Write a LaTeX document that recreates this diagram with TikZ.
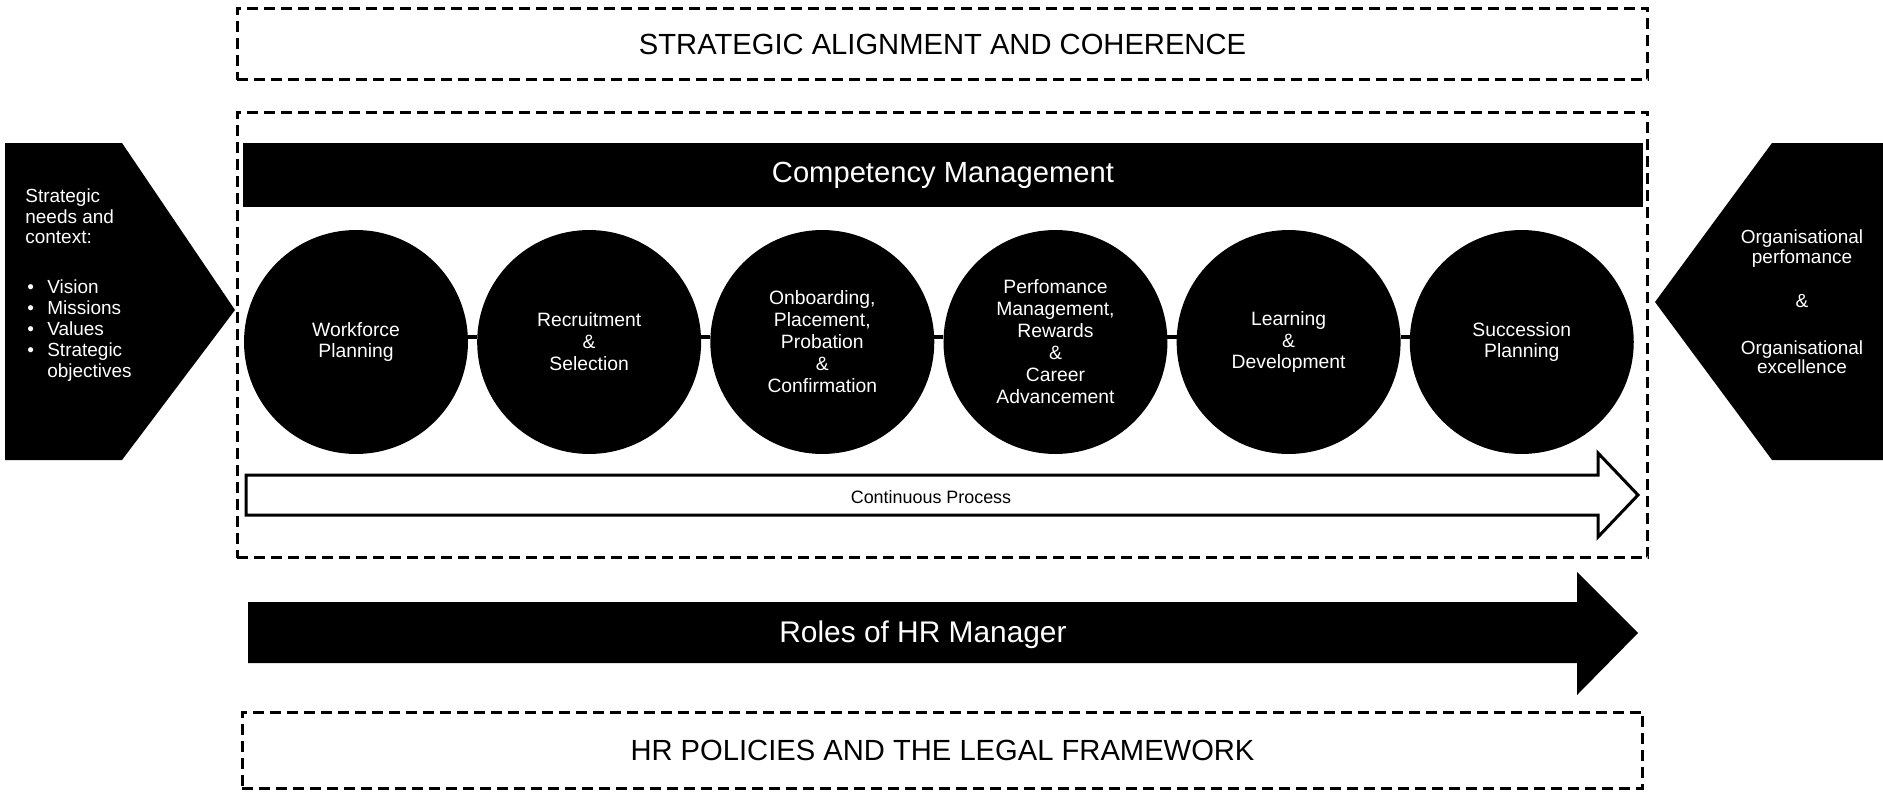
\documentclass[tikz,border=0pt]{standalone}
\usepackage{fontspec}
\setmainfont{Liberation Sans}
\usepackage{tikz}
\usetikzlibrary{positioning}

\newcommand{\bitem}{\hspace{0.04cm}\makebox[0.40cm][l]{\textbullet}}

\begin{document}
\begin{tikzpicture}[x=0.02cm, y=-0.02cm,
    dashbox/.style={draw, dash pattern=on 0.22cm off 0.12cm, line width=0.06cm, inner sep=0},
    stage/.style={circle, fill=black, text=white, minimum size=4.48cm, inner sep=0, outer sep=0, align=center, font=\fontsize{11}{12.5}\selectfont},
    link/.style={line width=0.07cm},
    big/.style={font=\fontsize{16.6}{19}\selectfont}]

    \useasboundingbox (0,0) rectangle (1883,794);

    % frames
    \node[dashbox, big, minimum width=28.22cm, minimum height=1.44cm] (align) at (942.5,44) {STRATEGIC ALIGNMENT AND COHERENCE};
    \node[dashbox, minimum width=28.22cm, minimum height=8.92cm] (frame) at (942.5,335) {};
    \node[dashbox, big, minimum width=28.02cm, minimum height=1.52cm] (policy) at (942.5,750) {HR POLICIES AND THE LEGAL FRAMEWORK};

    % input and output
    \fill[black] (5,143) -- (122,143) -- (235,310) -- (122,460) -- (5,460) -- cycle;
    \fill[black] (1883,143) -- (1772,143) -- (1655,302) -- (1772,460) -- (1883,460) -- cycle;
    \node[anchor=north west, inner sep=0, text=white, align=left, font=\fontsize{10.8}{11.9}\selectfont] (needs) at (25,188)
        {Strategic\\needs and\\context:\\[0.58cm]\bitem Vision\\\bitem Missions\\\bitem Values\\\bitem Strategic\\\hspace{0.44cm}objectives};
    \node[inner sep=0, text=white, align=center, font=\fontsize{10.8}{11.1}\selectfont] (result) at (1802,302)
        {Organisational\\perfomance\\[0.49cm]\&\\[0.55cm]Organisational\\excellence};

    % competency bar
    \node[fill=black, text=white, minimum width=28cm, minimum height=1.28cm, inner sep=0, big] (comp) at (943,175) {Competency Management};

    % stages
    \node[stage] (c1) at (356,342) {Workforce\\Planning};
    \node[stage, right=0.184cm of c1] (c2) {Recruitment\\\&\\Selection};
    \node[stage, right=0.184cm of c2] (c3) {Onboarding,\\Placement,\\Probation\\\&\\Confirmation};
    \node[stage, right=0.184cm of c3] (c4) {Perfomance\\Management,\\Rewards\\\&\\Career\\Advancement};
    \node[stage, right=0.184cm of c4] (c5) {Learning\\\&\\Development};
    \node[stage, right=0.184cm of c5] (c6) {Succession\\Planning};
    \draw[link] ([yshift=0.1cm]c1.east) -- ([yshift=0.1cm]c2.west);
    \draw[link] ([yshift=0.1cm]c2.east) -- ([yshift=0.1cm]c3.west);
    \draw[link] ([yshift=0.1cm]c3.east) -- ([yshift=0.1cm]c4.west);
    \draw[link] ([yshift=0.1cm]c4.east) -- ([yshift=0.1cm]c5.west);
    \draw[link] ([yshift=0.1cm]c5.east) -- ([yshift=0.1cm]c6.west);

    % continuous process
    \filldraw[fill=white, draw=black, line width=0.06cm] (246,475) -- (1598,475) -- (1598,453) -- (1638,495) -- (1598,537) -- (1598,515) -- (246,515) -- cycle;
    \node[font=\fontsize{10.2}{12}\selectfont] (cont) at (931,497) {Continuous Process};

    % roles
    \fill[black] (248,602) -- (1577,602) -- (1577,572) -- (1638,633) -- (1577,695) -- (1577,663) -- (248,663) -- cycle;
    \node[anchor=base, text=white, font=\fontsize{17}{20}\selectfont] (roles) at (923,642) {Roles of HR Manager};
\end{tikzpicture}
\end{document}
